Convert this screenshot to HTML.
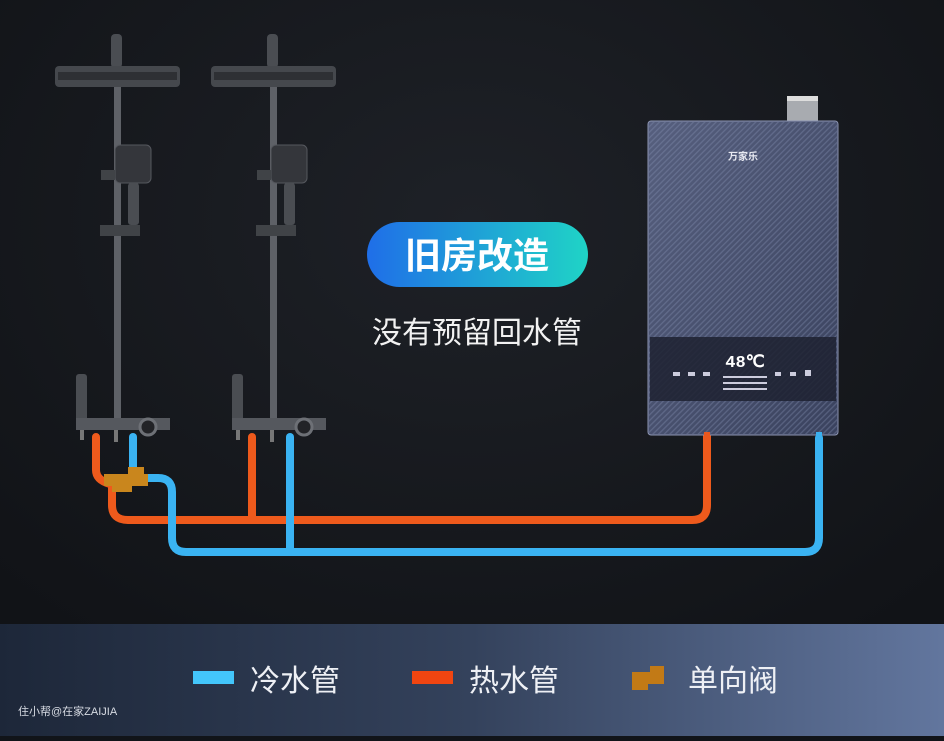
<!DOCTYPE html>
<html><head><meta charset="utf-8"><style>
html,body{margin:0;padding:0;}
body{width:944px;height:736px;overflow:hidden;background:#111419;font-family:"Liberation Sans","Noto Sans CJK SC",sans-serif;}
</style></head><body>
<svg width="944" height="736" viewBox="0 0 944 736" xmlns="http://www.w3.org/2000/svg">
<defs>
<radialGradient id="bg" cx="0.5" cy="0.3" r="0.7">
<stop offset="0" stop-color="#1e2127"/><stop offset="1" stop-color="#111317"/>
</radialGradient>
<linearGradient id="band" x1="0" x2="1" y1="0" y2="0">
<stop offset="0" stop-color="#1d2739"/><stop offset="0.5" stop-color="#34425c"/><stop offset="1" stop-color="#62769e"/>
</linearGradient>
<linearGradient id="pill" x1="0" x2="1" y1="0" y2="0">
<stop offset="0" stop-color="#1f6ee8"/><stop offset="1" stop-color="#1fd4c6"/>
</linearGradient>
<linearGradient id="heat" x1="0" x2="1" y1="0" y2="1">
<stop offset="0" stop-color="#565f7e"/><stop offset="1" stop-color="#3a425e"/>
</linearGradient>
<pattern id="stripe" width="4" height="4" patternUnits="userSpaceOnUse" patternTransform="rotate(45)">
<rect width="1.3" height="4" fill="#8a95b8" opacity="0.35"/>
</pattern>
<g id="shower">
<rect x="111" y="34" width="11" height="34" rx="4" fill="#4a4d52"/>
<rect x="55" y="66" width="125" height="21" rx="4" fill="#45484d"/>
<rect x="58" y="72" width="119" height="8" fill="#2e3034"/>
<rect x="114" y="87" width="7" height="335" fill="#5e6167"/>
<rect x="115" y="145" width="36" height="38" rx="5" fill="#34363b" stroke="#55585e"/>
<rect x="128" y="183" width="11" height="42" rx="3" fill="#4a4d52"/>
<rect x="101" y="170" width="14" height="10" fill="#404347"/>
<rect x="100" y="225" width="40" height="11" fill="#404347"/>
<rect x="76" y="374" width="11" height="48" rx="3" fill="#4a4d52"/>
<rect x="76" y="418" width="94" height="12" fill="#55585e"/>
<circle cx="148" cy="427" r="8" fill="#222327" stroke="#6d7076" stroke-width="3"/>
<rect x="80" y="430" width="4" height="10" fill="#777"/>
<rect x="114" y="430" width="4" height="12" fill="#777"/>
</g>
</defs>
<rect width="944" height="736" fill="url(#bg)"/>
<use href="#shower"/>
<use href="#shower" x="156"/>
<g fill="none" stroke-linecap="round" stroke-linejoin="round">
<g stroke="#ee5a1c" stroke-width="8">
<path d="M96 437 V470 Q96 480 110 484"/>
<path d="M112 488 V505 Q112 520 128 520 H692 Q707 520 707 505 V436"/>
<path d="M252 437 V520"/>
</g>
<g stroke="#3ab3f2" stroke-width="8">
<path d="M133 437 V476"/>
<path d="M145 478 H158 Q172 478 172 492 V538 Q172 552 186 552 H805 Q819 552 819 538 V438"/>
<path d="M290 437 V552"/>
</g>
</g>
<path d="M104 474 H128 V467 H144 V474 H148 V486 H132 V492 H112 V486 H104 Z" fill="#c9861d"/>
<rect x="787" y="96" width="31" height="26" fill="#a8abb0"/>
<rect x="787" y="96" width="31" height="5" fill="#ddd"/>
<rect x="648" y="121" width="190" height="314" rx="3" fill="url(#heat)" stroke="#8d95b3"/>
<rect x="649" y="122" width="188" height="312" fill="url(#stripe)"/>
<rect x="650" y="337" width="186" height="64" fill="#1d2130" opacity="0.85"/>
<text x="743" y="160" fill="#e8eaf2" font-size="10" text-anchor="middle" font-weight="bold">万家乐</text>
<text x="745" y="367" fill="#fff" font-size="17" text-anchor="middle" font-family="Liberation Mono,monospace" font-weight="bold">48℃</text>
<g fill="#ccd"><rect x="673" y="372" width="7" height="4"/><rect x="688" y="372" width="7" height="4"/><rect x="703" y="372" width="7" height="4"/><rect x="775" y="372" width="6" height="4"/><rect x="790" y="372" width="6" height="4"/><rect x="805" y="370" width="6" height="6"/>
<rect x="723" y="376" width="44" height="2"/><rect x="723" y="382" width="44" height="2"/><rect x="723" y="388" width="44" height="2"/></g>
<rect x="704" y="432" width="6" height="8" fill="#e9571d"/><rect x="816" y="432" width="6" height="8" fill="#3ab0ef"/>
<rect x="367" y="222" width="221" height="65" rx="32.5" fill="url(#pill)"/>
<text x="477" y="268" fill="#fff" font-size="36" font-weight="bold" text-anchor="middle">旧房改造</text>
<text x="477" y="343" fill="#f2f2f2" font-size="30" text-anchor="middle">没有预留回水管</text>
<rect x="0" y="624" width="944" height="112" fill="url(#band)"/>
<rect x="193" y="671" width="41" height="13" fill="#43c6fb"/>
<text x="250" y="691" fill="#eef0f5" font-size="30">冷水管</text>
<rect x="412" y="671" width="41" height="13" fill="#f04511"/>
<text x="469" y="691" fill="#eef0f5" font-size="30">热水管</text>
<path d="M632 672 H650 V666 H664 V684 H648 V690 H632 Z" fill="#c27a16"/>
<text x="688" y="691" fill="#eef0f5" font-size="30">单向阀</text>
<text x="18" y="715" fill="#d7dbe3" font-size="11">住小帮@在家ZAIJIA</text>
</svg>
</body></html>
